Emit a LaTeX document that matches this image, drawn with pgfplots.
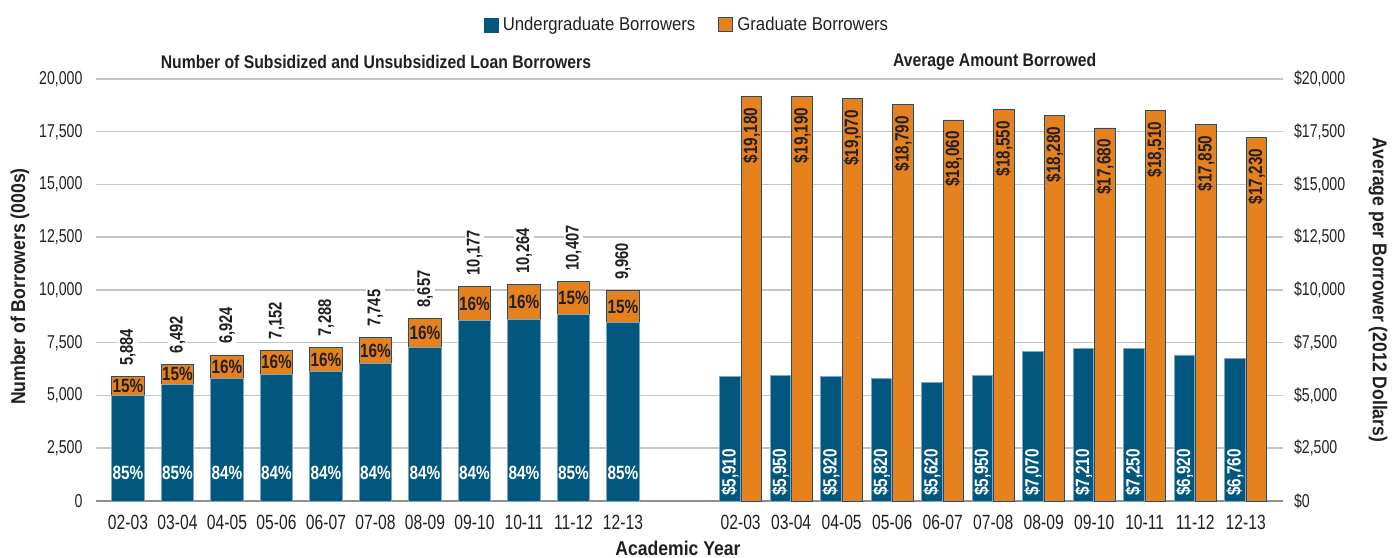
\documentclass[border=0pt]{standalone}
\usepackage{fontspec}
\setmainfont[FakeStretch=0.76]{Liberation Sans}
\newfontfamily\labfont[FakeStretch=0.8]{Liberation Sans}
\newfontfamily\titfont[FakeStretch=0.86]{Liberation Sans}
\newfontfamily\legfont[FakeStretch=0.9]{Liberation Sans}
\newfontfamily\axtfont[FakeStretch=0.88]{Liberation Sans}
\usepackage{pgfplots}
\usepackage{pgfplotstable}
\pgfplotsset{compat=1.18}
\pgfkeys{/pgf/number format/.cd, 1000 sep={,}, assume math mode=true}

\definecolor{ublue}{HTML}{02577F}
\definecolor{gorange}{HTML}{E6821E}
\definecolor{txt}{HTML}{231F20}
\definecolor{gridc}{HTML}{C4C4C4}
\definecolor{zeroc}{HTML}{8E8E8E}
\definecolor{oedge}{HTML}{1F4E79}
\definecolor{bedge}{HTML}{7FA6C2}

\pgfplotstableread{
x under grad total pu pg mid
0 5001 883 5884 85 15 5442.5
1 5518 974 6492 85 15 6005
2 5816 1108 6924 84 16 6370
3 6008 1144 7152 84 16 6580
4 6122 1166 7288 84 16 6705
5 6506 1239 7745 84 16 7125.5
6 7272 1385 8657 84 16 7964.5
7 8549 1628 10177 84 16 9363
8 8622 1642 10264 84 16 9443
9 8846 1561 10407 85 15 9626.5
10 8466 1494 9960 85 15 9213
}\leftdata

\pgfplotstableread{
x under grad
0 5910 19180
1 5950 19190
2 5920 19070
3 5820 18790
4 5620 18060
5 5950 18550
6 7070 18280
7 7210 17680
8 7250 18510
9 6920 17850
10 6760 17230
}\rightdata

\tikzset{lab/.style={font=\labfont\bfseries\fontsize{9.6}{10}\selectfont}}
\pgfplotsset{
  base/.style={scale only axis, width=593.65pt, height=211pt, at={(0,0)}, anchor=south west,
    ymin=0, ymax=20000, clip=false, enlargelimits=false, scaled y ticks=false},
  leftx/.style={xmin=-0.6525, xmax=23.333},
  rightx/.style={xmin=-12.772, xmax=10.739},
}

\begin{document}
\begin{tikzpicture}
\useasboundingbox (-47.85pt,-28pt) rectangle (650.65pt,250.5pt);

% ---- left panel: stacked bars, grid, left axis, legend, titles
\begin{axis}[base, leftx, ybar stacked, bar width=16.35pt,
  axis x line*=bottom, axis y line*=left,
  x axis line style={draw=zeroc, line width=1pt},
  y axis line style={draw=none},
  major tick length=0pt, tick style={draw=none},
  ymajorgrids, grid style={draw=gridc, line width=0.75pt},
  ytick={0,2500,...,20000},
  xtick={0,...,10},
  xticklabels={02-03,03-04,04-05,05-06,06-07,07-08,08-09,09-10,10-11,11-12,12-13},
  y tick label style={font=\fontsize{9.3}{10}\selectfont, text=txt, xshift=-3.1pt},
  x tick label style={font=\fontsize{10.3}{11}\selectfont, text=txt, yshift=-3.7pt},
  xlabel={Academic Year},
  every axis x label/.style={at={(axis description cs:0.4904,0)}, anchor=center, yshift=-23.5pt,
    font=\axtfont\bfseries\fontsize{10}{12}\selectfont, text=txt},
  ylabel={Number of Borrowers (000s)},
  every axis y label/.style={at={(axis description cs:0,0.508)}, xshift=-37.85pt, rotate=90, anchor=center,
    font=\axtfont\bfseries\fontsize{10}{12}\selectfont, text=txt},
  legend style={at={(axis description cs:0.4989,1)}, anchor=center, yshift=27pt, draw=none, fill=none,
    font=\legfont\fontsize{9.3}{11}\selectfont, text=txt, inner sep=0pt,
    /tikz/every even column/.append style={column sep=9.5pt}},
  legend columns=2,
]
\addplot[fill=ublue, draw=bedge, line width=0.4pt,
  legend image code/.code={\draw[fill=ublue, draw=ublue] (0pt,-3.5pt) rectangle (7pt,3.5pt);}]
  table[x=x, y=under]{\leftdata};
\addlegendentry{Undergraduate Borrowers}
\addplot[fill=gorange, draw=oedge, line width=0.4pt,
  legend image code/.code={\draw[fill=gorange, draw=oedge, line width=0.5pt] (0pt,-3.5pt) rectangle (7pt,3.5pt);}]
  table[x=x, y=grad]{\leftdata};
\addlegendentry{Graduate Borrowers}
\node[font=\titfont\bfseries\fontsize{9.15}{11}\selectfont, text=txt] at (axis description cs:0.236,1) [yshift=8.75pt]
  {Number of Subsidized and Unsubsidized Loan Borrowers};
\node[font=\titfont\bfseries\fontsize{9.15}{11}\selectfont, text=txt] at (axis description cs:0.7571,1) [yshift=8.75pt]
  {Average Amount Borrowed};
\end{axis}

% ---- left panel labels
\begin{axis}[base, leftx, hide axis]
\addplot[draw=none, mark=none, point meta=\thisrow{total}, nodes near coords,
  nodes near coords style={font=\labfont\bfseries\fontsize{9.2}{10}\selectfont, text=txt, fill=white,
    inner sep=1pt, yshift=4.3pt, rotate=90, anchor=west}]
  table[x=x, y=total]{\leftdata};
\addplot[draw=none, mark=none, point meta=\thisrow{pg},
  nodes near coords={\pgfmathprintnumber{\pgfplotspointmeta}\%},
  nodes near coords style={lab, text=txt, anchor=center, inner sep=0pt}]
  table[x=x, y=mid]{\leftdata};
\addplot[draw=none, mark=none, point meta=\thisrow{pu},
  nodes near coords={\pgfmathprintnumber{\pgfplotspointmeta}\%},
  nodes near coords style={lab, text=white, anchor=center, inner sep=0pt}]
  table[x=x, y expr=1352]{\leftdata};
\end{axis}

% ---- right panel: grouped bars, right axis
\begin{axis}[base, rightx, ybar=0.5pt, bar width=10.2pt,
  axis x line*=bottom, axis y line*=right,
  axis line style={draw=none},
  major tick length=0pt, tick style={draw=none},
  ytick={0,2500,...,20000},
  yticklabel={\$\pgfmathprintnumber{\tick}},
  xtick={0,...,10},
  xticklabels={02-03,03-04,04-05,05-06,06-07,07-08,08-09,09-10,10-11,11-12,12-13},
  y tick label style={font=\fontsize{9.3}{10}\selectfont, text=txt, xshift=2pt},
  x tick label style={font=\fontsize{10.3}{11}\selectfont, text=txt, yshift=-3.7pt},
  ylabel={Average per Borrower (2012 Dollars)},
  every axis y label/.style={at={(axis description cs:1,0.5)}, xshift=47.5pt, rotate=-90, anchor=center,
    font=\axtfont\bfseries\fontsize{10}{12}\selectfont, text=txt},
]
\addplot[fill=ublue, draw=bedge, line width=0.4pt] table[x=x, y=under]{\rightdata};
\addplot[fill=gorange, draw=oedge, line width=0.4pt] table[x=x, y=grad]{\rightdata};
\end{axis}

% ---- right panel labels
\begin{axis}[base, rightx, hide axis]
\addplot[draw=none, mark=none, point meta=\thisrow{under},
  nodes near coords={\$\pgfmathprintnumber{\pgfplotspointmeta}},
  nodes near coords style={lab, text=white,
    inner sep=0.5pt, xshift=-5.35pt, yshift=1.85pt, rotate=90, anchor=west}]
  table[x=x, y expr=0]{\rightdata};
\addplot[draw=none, mark=none, point meta=\thisrow{grad},
  nodes near coords={\$\pgfmathprintnumber{\pgfplotspointmeta}},
  nodes near coords style={lab, text=txt,
    inner sep=0.5pt, xshift=5.35pt, yshift=-5pt, rotate=90, anchor=east}]
  table[x=x, y=grad]{\rightdata};
\end{axis}
\end{tikzpicture}
\end{document}
